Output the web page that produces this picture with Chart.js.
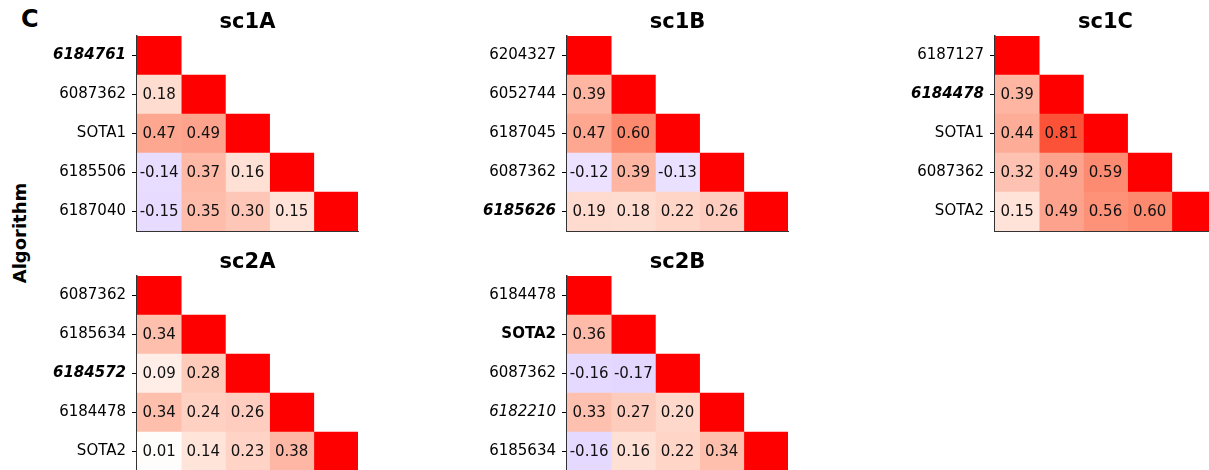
<!DOCTYPE html>
<html>
<head>
<meta charset="utf-8">
<script src="https://cdn.jsdelivr.net/npm/chart.js@4.4.0/dist/chart.umd.min.js"></script>
<style>
  html, body { margin: 0; padding: 0; background: #fff; }
  body { width: 1209px; height: 470px; overflow: hidden; position: relative; font-family: "DejaVu Sans", sans-serif; color: #000; }
  .panel { position: absolute; }
  #letter { position: absolute; left: 21px; top: 7px; font-weight: bold; font-size: 24px; line-height: 1; }
  #ylab { position: absolute; left: 19px; top: 233px; font-weight: bold; font-size: 18px; white-space: nowrap;
          transform: translate(-50%, -50%) rotate(-90deg); }
</style>
</head>
<body>
<div id="letter">C</div>
<div id="ylab">Algorithm</div>
<script>
// lower triangle of each correlation matrix, row by row (diagonal = 1)
const sc1A_labels = ["6184761", "6087362", "SOTA1", "6185506", "6187040"];
const sc1A_emph = ["bi", "", "", "", ""];
const sc1A_values = [
  [1],
  [0.18, 1],
  [0.47, 0.49, 1],
  [-0.14, 0.37, 0.16, 1],
  [-0.15, 0.35, 0.30, 0.15, 1],
];

const sc1B_labels = ["6204327", "6052744", "6187045", "6087362", "6185626"];
const sc1B_emph = ["", "", "", "", "bi"];
const sc1B_values = [
  [1],
  [0.39, 1],
  [0.47, 0.60, 1],
  [-0.12, 0.39, -0.13, 1],
  [0.19, 0.18, 0.22, 0.26, 1],
];

const sc1C_labels = ["6187127", "6184478", "SOTA1", "6087362", "SOTA2"];
const sc1C_emph = ["", "bi", "", "", ""];
const sc1C_values = [
  [1],
  [0.39, 1],
  [0.44, 0.81, 1],
  [0.32, 0.49, 0.59, 1],
  [0.15, 0.49, 0.56, 0.60, 1],
];

const sc2A_labels = ["6087362", "6185634", "6184572", "6184478", "SOTA2"];
const sc2A_emph = ["", "", "bi", "", ""];
const sc2A_values = [
  [1],
  [0.34, 1],
  [0.09, 0.28, 1],
  [0.34, 0.24, 0.26, 1],
  [0.01, 0.14, 0.23, 0.38, 1],
];

const sc2B_labels = ["6184478", "SOTA2", "6087362", "6182210", "6185634"];
const sc2B_emph = ["", "b", "", "i", ""];
const sc2B_values = [
  [1],
  [0.36, 1],
  [-0.16, -0.17, 1],
  [0.33, 0.27, 0.20, 1],
  [-0.16, 0.16, 0.22, 0.34, 1],
];

// colour scale: lavender - white - salmon - red
const posStops = [
  [0, 255, 255, 255],
  [0.18, 255, 220, 208],
  [0.47, 253, 167, 145],
  [0.6, 253, 137, 110],
  [0.81, 251, 82, 56],
  [1, 255, 0, 0],
];
const negStops = [
  [0, 255, 255, 255],
  [0.15, 231, 219, 255],
  [1, 110, 50, 255],
];

function cellColor(v) {
  const stops = v >= 0 ? posStops : negStops;
  const a = Math.abs(v);
  for (let i = 1; i < stops.length; i++) {
    if (a <= stops[i][0]) {
      const s0 = stops[i - 1], s1 = stops[i];
      const t = (a - s0[0]) / (s1[0] - s0[0]);
      const c = [1, 2, 3].map((k) => Math.round(s0[k] + (s1[k] - s0[k]) * t));
      return `rgb(${c[0]},${c[1]},${c[2]})`;
    }
  }
  return "rgb(255,0,0)";
}

const FONT = "DejaVu Sans";
const AXIS_W = 100;
const TITLE_H = 36;
const PLOT_W = 221;
const PLOT_H = 195;

function makePanel(title, labels, values, emph, plotLeft, plotTop) {
  const canvas = document.createElement("canvas");
  canvas.width = AXIS_W + PLOT_W + 2;
  canvas.height = TITLE_H + PLOT_H + 15;
  canvas.className = "panel";
  canvas.style.left = plotLeft - AXIS_W + "px";
  canvas.style.top = plotTop - TITLE_H + "px";
  document.body.appendChild(canvas);

  const n = labels.length;
  const datasets = [];
  for (let c = 0; c < n; c++) {
    datasets.push({
      data: labels.map((_, r) => (r >= c ? [c, c + 1] : null)),
      backgroundColor: labels.map((_, r) =>
        r >= c ? cellColor(values[r][c]) : "rgba(0,0,0,0)"
      ),
      borderWidth: 0,
      barPercentage: 1,
      categoryPercentage: 1,
      grouped: false,
    });
  }

  const cellText = {
    id: "cellText",
    afterDatasetsDraw(chart) {
      const ctx = chart.ctx;
      ctx.save();
      ctx.font = `15px "${FONT}"`;
      ctx.fillStyle = "#111";
      ctx.textAlign = "center";
      ctx.textBaseline = "middle";
      chart.data.datasets.forEach((ds, c) => {
        const meta = chart.getDatasetMeta(c);
        meta.data.forEach((el, r) => {
          if (r <= c) return;
          const p = el.getProps(["x", "y", "base"], true);
          ctx.fillText(values[r][c].toFixed(2), (p.x + p.base) / 2, p.y + 1);
        });
      });
      ctx.restore();
    },
  };

  new Chart(canvas, {
    type: "bar",
    data: { labels: labels, datasets: datasets },
    options: {
      indexAxis: "y",
      responsive: false,
      animation: false,
      events: [],
      layout: { padding: { left: 0, right: 2, top: 0, bottom: 0 } },
      plugins: {
        legend: { display: false },
        tooltip: { enabled: false },
        title: {
          display: true,
          text: title,
          fullSize: false,
          color: "#000",
          font: { family: FONT, size: 21, weight: "bold", lineHeight: 1 },
          padding: { top: 12, bottom: 3 },
        },
      },
      scales: {
        x: {
          type: "linear",
          min: 0,
          max: n,
          ticks: { display: false },
          grid: { display: false },
          border: { display: true, color: "#333", width: 1 },
          afterFit: (s) => { s.height = 5; },
        },
        y: {
          type: "category",
          offset: true,
          ticks: {
            color: "#000",
            padding: 6,
            font: (ctx) => {
              const e = emph[ctx.index] || "";
              return {
                family: FONT,
                size: 15,
                weight: e.includes("b") ? "bold" : "normal",
                style: e.includes("i") ? "italic" : "normal",
              };
            },
          },
          grid: {
            display: true,
            drawOnChartArea: false,
            offset: false,
            tickLength: 5,
            color: "#000",
          },
          border: { display: true, color: "#333", width: 1.5 },
          afterFit: (s) => { s.width = AXIS_W; },
        },
      },
    },
    plugins: [cellText],
  });
}

makePanel("sc1A", sc1A_labels, sc1A_values, sc1A_emph, 137, 36);
makePanel("sc1B", sc1B_labels, sc1B_values, sc1B_emph, 567, 36);
makePanel("sc1C", sc1C_labels, sc1C_values, sc1C_emph, 995, 36);
makePanel("sc2A", sc2A_labels, sc2A_values, sc2A_emph, 137, 276);
makePanel("sc2B", sc2B_labels, sc2B_values, sc2B_emph, 567, 276);
</script>
</body>
</html>
